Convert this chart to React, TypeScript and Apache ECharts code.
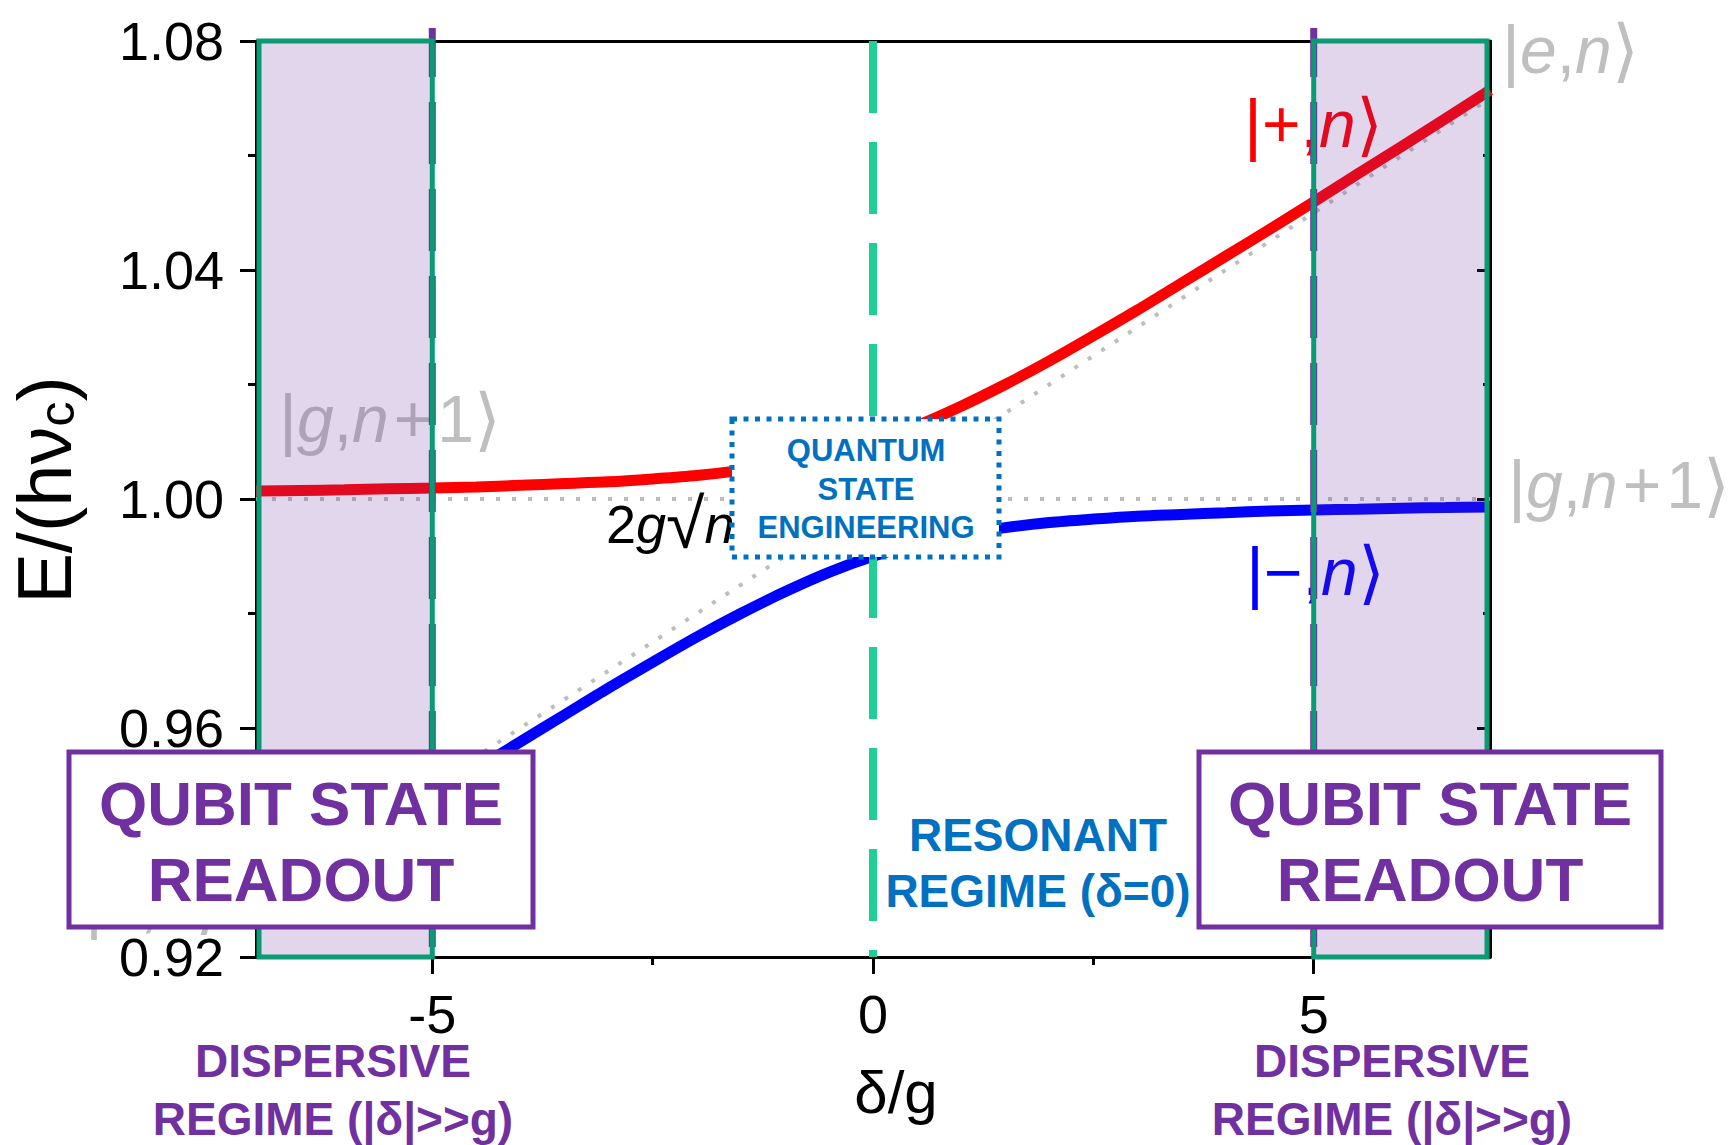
import React, { useEffect, useRef } from "react";
import * as echarts from "echarts";

// Detuning axis (δ/g) and the dressed-state energies E/(hν_c)
const deltaOverG = [
  -7, -6.5, -6, -5.5, -5, -4.5, -4, -3.5, -3, -2.5, -2, -1.5, -1, -0.5, 0,
  0.5, 1, 1.5, 2, 2.5, 3, 3.5, 4, 4.5, 5, 5.5, 6, 6.5, 7,
];
const upperBranch = [
  1.0014, 1.0015, 1.0016, 1.0018, 1.0019, 1.0021, 1.0024, 1.0027, 1.003,
  1.0035, 1.0041, 1.005, 1.0062, 1.0078, 1.01, 1.0128, 1.0162, 1.02, 1.0241,
  1.0285, 1.033, 1.0377, 1.0424, 1.0471, 1.0519, 1.0568, 1.0616, 1.0665, 1.0714,
];
const lowerBranch = [
  0.9286, 0.9335, 0.9384, 0.9432, 0.9481, 0.9529, 0.9576, 0.9623, 0.967,
  0.9715, 0.9759, 0.98, 0.9838, 0.9872, 0.99, 0.9922, 0.9938, 0.995, 0.9959,
  0.9965, 0.997, 0.9973, 0.9976, 0.9979, 0.9981, 0.9982, 0.9984, 0.9985, 0.9986,
];

// Bare (uncoupled) states
const bareX = [-7, 7];
const bareGround = [1.0, 1.0]; // |g,n+1>
const bareExcited = [0.93, 1.07]; // |e,n>

// Regimes
const dispersiveBands = [
  [-7, -5],
  [5, 7],
];
const resonanceDelta = 0;

// Axes
const xMin = -7;
const xMax = 7;
const yMin = 0.92;
const yMax = 1.08;
const yStep = 0.04;
const xMajorTicks = [-5, 0, 5];
const xMinorTicks = [-2.5, 2.5];

const FONT = '"Liberation Sans", Arial, Helvetica, sans-serif';
const PURPLE = "#7030A0";
const BLUE_TXT = "#0070C0";
const GREEN_EDGE = "#0A9A74";
const GREEN_RES = "#1FCF97";
const GRAY = "#BFBFBF";
const AXIS = { color: "#000", width: 3 };

// Builds a ket label as rich text: [text, style] where style is
// r (upright), i (italic), b (bracket), p (spaced operator)
function ket(parts: [string, string][]) {
  return parts.map(([t, s]) => `{${s}|${t}}`).join("");
}
function ketRich(size: number, color: string) {
  return {
    r: { fontSize: size, fontFamily: FONT, fill: color },
    i: { fontSize: size, fontFamily: FONT, fontStyle: "italic", fill: color },
    b: { fontSize: size * 1.05, fontFamily: FONT, fill: color },
    p: { fontSize: size, fontFamily: FONT, fill: color, padding: [0, 5, 0, 5] },
  };
}
function ketLabel(x: number, y: number, parts: [string, string][], color: string, size = 66) {
  return {
    type: "text",
    x,
    y,
    z: 1,
    silent: true,
    style: {
      text: ket(parts),
      rich: ketRich(size, color),
      fill: color,
      fontSize: size,
      fontFamily: FONT,
      align: "left",
      verticalAlign: "middle",
    },
  };
}

const KET_E: [string, string][] = [["|", "b"], ["e", "i"], [",", "r"], ["n", "i"], ["⟩", "b"]];
const KET_G: [string, string][] = [
  ["|", "b"],
  ["g", "i"],
  [",", "r"],
  ["n", "i"],
  ["+", "p"],
  ["1", "r"],
  ["⟩", "b"],
];
const KET_PLUS: [string, string][] = [["|", "b"], ["+,", "r"], ["n", "i"], ["⟩", "b"]];
const KET_MINUS: [string, string][] = [["|", "b"], ["−,", "r"], ["n", "i"], ["⟩", "b"]];

export default function App() {
  const ref = useRef<HTMLDivElement>(null);

  useEffect(() => {
    if (!ref.current) return;
    const chart = echarts.init(ref.current, null, { renderer: "svg" });

    const toPairs = (ys: number[], xs: number[]) => xs.map((x, i) => [x, ys[i]]);

    const graphics: any[] = [
      // axis titles
      {
        type: "text",
        x: 44,
        y: 490,
        rotation: Math.PI / 2,
        z: 50,
        silent: true,
        style: {
          text: "{m|E/(hν}{s|c}{m|)}",
          rich: {
            m: { fontSize: 76, fontFamily: FONT, fill: "#000" },
            s: { fontSize: 50, fontFamily: FONT, fill: "#000", verticalAlign: "bottom", lineHeight: 42 },
          },
          align: "center",
          verticalAlign: "middle",
        },
      },
      {
        type: "text",
        x: 896,
        y: 1092,
        z: 50,
        silent: true,
        style: {
          text: "δ/g",
          fontSize: 60,
          fontFamily: FONT,
          fill: "#000",
          align: "center",
          verticalAlign: "middle",
        },
      },
      // regime captions under the axis
      ...[333, 1392].map((x) => ({
        type: "text",
        x,
        y: 1090,
        z: 50,
        silent: true,
        style: {
          text: "DISPERSIVE\nREGIME (|δ|>>g)",
          fontSize: 46,
          fontWeight: "bold",
          fontFamily: FONT,
          fill: PURPLE,
          align: "center",
          verticalAlign: "middle",
          lineHeight: 58,
        },
      })),
      {
        type: "text",
        x: 1038,
        y: 863,
        z: 90,
        silent: true,
        style: {
          text: "RESONANT\nREGIME (δ=0)",
          fontSize: 46,
          fontWeight: "bold",
          fontFamily: FONT,
          fill: BLUE_TXT,
          align: "center",
          verticalAlign: "middle",
          lineHeight: 56,
        },
      },
      // state labels
      ketLabel(1502, 50, KET_E, GRAY),
      ketLabel(1508, 485, KET_G, GRAY),
      ketLabel(279, 419, KET_G, GRAY),
      ketLabel(85, 902, KET_E, GRAY),
      ketLabel(1244, 124, KET_PLUS, "#FF0000"),
      ketLabel(1246, 572, KET_MINUS, "#0000FF"),
      // coupling gap
      {
        type: "text",
        x: 606,
        y: 524,
        z: 20,
        silent: true,
        style: {
          text: "{r|2}{i|g}{b|√}{i|n}{r|+1}",
          rich: {
            r: { fontSize: 54, fontFamily: FONT, fill: "#000" },
            i: { fontSize: 54, fontFamily: FONT, fontStyle: "italic", fill: "#000" },
            b: { fontSize: 70, fontFamily: FONT, fill: "#000" },
          },
          fill: "#000",
          fontSize: 54,
          fontFamily: FONT,
          align: "left",
          verticalAlign: "middle",
        },
      },
      // call-out boxes
      ...[
        { x: 69, w: 464 },
        { x: 1199, w: 462 },
      ].flatMap((b) => [
        {
          type: "rect",
          z: 100,
          silent: true,
          shape: { x: b.x, y: 752, width: b.w, height: 175 },
          style: { fill: "#fff", stroke: PURPLE, lineWidth: 5 },
        },
        {
          type: "text",
          x: b.x + b.w / 2,
          y: 841,
          z: 101,
          silent: true,
          style: {
            text: "QUBIT STATE\nREADOUT",
            fontSize: 62,
            fontWeight: "bold",
            fontFamily: FONT,
            fill: PURPLE,
            align: "center",
            verticalAlign: "middle",
            lineHeight: 76,
          },
        },
      ]),
      {
        type: "rect",
        z: 100,
        silent: true,
        shape: { x: 732, y: 419, width: 267, height: 138 },
        style: { fill: "#fff", stroke: BLUE_TXT, lineWidth: 5, lineDash: [5, 6.5] },
      },
      {
        type: "text",
        x: 866,
        y: 489,
        z: 101,
        silent: true,
        style: {
          text: "QUANTUM\nSTATE\nENGINEERING",
          fontSize: 31,
          fontWeight: "bold",
          fontFamily: FONT,
          fill: BLUE_TXT,
          align: "center",
          verticalAlign: "middle",
          lineHeight: 38.5,
        },
      },
    ];

    const option: any = {
      animation: false,
      backgroundColor: "#fff",
      grid: { left: 256, right: 239, top: 41, bottom: 188 },
      xAxis: [
        {
          type: "value",
          position: "bottom",
          min: xMin,
          max: xMax,
          axisLine: { show: true, onZero: false, lineStyle: AXIS },
          axisTick: { show: true, customValues: xMajorTicks, length: 17, lineStyle: AXIS },
          axisLabel: {
            show: true,
            customValues: xMajorTicks,
            fontSize: 54,
            fontFamily: FONT,
            color: "#000",
            margin: 30,
          },
          splitLine: { show: false },
        },
        {
          type: "value",
          position: "bottom",
          min: xMin,
          max: xMax,
          axisLine: { show: false, onZero: false },
          axisTick: { show: true, customValues: xMinorTicks, length: 8, lineStyle: AXIS },
          axisLabel: { show: false },
          splitLine: { show: false },
        },
        {
          type: "value",
          position: "top",
          min: xMin,
          max: xMax,
          axisLine: { show: true, onZero: false, lineStyle: AXIS },
          axisTick: { show: false },
          axisLabel: { show: false },
          splitLine: { show: false },
        },
      ],
      yAxis: [
        {
          type: "value",
          position: "left",
          min: yMin,
          max: yMax,
          interval: yStep,
          axisLine: { show: true, onZero: false, lineStyle: AXIS },
          axisTick: { show: true, length: 16, lineStyle: AXIS },
          minorTick: { show: true, splitNumber: 2, length: 8, lineStyle: AXIS },
          axisLabel: {
            fontSize: 54,
            fontFamily: FONT,
            color: "#000",
            margin: 32,
            formatter: (v: number) => v.toFixed(2),
          },
          splitLine: { show: false },
        },
        {
          type: "value",
          position: "right",
          min: yMin,
          max: yMax,
          interval: yStep,
          axisLine: { show: true, onZero: false, lineStyle: AXIS },
          axisTick: { show: true, inside: true, length: 13, lineStyle: AXIS },
          minorTick: { show: true, splitNumber: 2, length: 7, lineStyle: AXIS },
          axisLabel: { show: false },
          splitLine: { show: false },
        },
      ],
      series: [
        {
          name: "|g,n+1>",
          type: "line",
          data: toPairs(bareGround, bareX),
          symbol: "none",
          silent: true,
          z: 2,
          lineStyle: { color: "#BDBDBD", width: 4, type: [4, 12] },
        },
        {
          name: "|e,n>",
          type: "line",
          data: toPairs(bareExcited, bareX),
          symbol: "none",
          silent: true,
          z: 2,
          lineStyle: { color: "#BDBDBD", width: 4, type: [4, 12] },
        },
        {
          name: "|+,n>",
          type: "line",
          data: toPairs(upperBranch, deltaOverG),
          symbol: "none",
          smooth: 0.3,
          silent: true,
          z: 3,
          lineStyle: { color: "#FF0000", width: 11 },
        },
        {
          name: "|-,n>",
          type: "line",
          data: toPairs(lowerBranch, deltaOverG),
          symbol: "none",
          smooth: 0.3,
          silent: true,
          z: 3,
          lineStyle: { color: "#0000FF", width: 11 },
        },
        {
          name: "resonance",
          type: "custom",
          silent: true,
          clip: false,
          z: 4,
          data: [[resonanceDelta, yMin, yMax]],
          renderItem: (_p: any, api: any) => {
            const top = api.coord([api.value(0), api.value(2)]);
            const bot = api.coord([api.value(0), api.value(1)]);
            return {
              type: "line",
              shape: { x1: top[0], y1: top[1], x2: bot[0], y2: bot[1] },
              style: { stroke: GREEN_RES, lineWidth: 8, lineDash: [72, 29] },
            };
          },
        },
        {
          name: "dispersive",
          type: "custom",
          silent: true,
          clip: false,
          z: 5,
          data: dispersiveBands.map(([a, b]) => [a, b]),
          renderItem: (_p: any, api: any) => {
            const x0 = api.value(0);
            const x1 = api.value(1);
            const inner = x0 < 0 ? x1 : x0;
            const tl = api.coord([x0, yMax]);
            const br = api.coord([x1, yMin]);
            const ix = api.coord([inner, yMax])[0];
            const leftInset = x0 <= xMin ? 3 : 0;
            const rightInset = x1 >= xMax ? 3 : 0;
            return {
              type: "group",
              children: [
                {
                  type: "line",
                  shape: { x1: ix, y1: tl[1] - 13, x2: ix, y2: br[1] },
                  style: { stroke: PURPLE, lineWidth: 7, lineDash: [62, 25], lineDashOffset: 13 },
                },
                {
                  type: "rect",
                  shape: {
                    x: tl[0] + leftInset,
                    y: tl[1],
                    width: br[0] - tl[0] - leftInset - rightInset,
                    height: br[1] - tl[1],
                  },
                  style: { fill: "rgba(112,48,160,0.2)", stroke: GREEN_EDGE, lineWidth: 5 },
                },
              ],
            };
          },
        },
      ],
      graphic: { elements: graphics },
    };

    chart.setOption(option);
    return () => chart.dispose();
  }, []);

  return (
    <div
      ref={ref}
      style={{ position: "fixed", left: 0, top: 0, width: 1729, height: 1145, background: "#fff" }}
    />
  );
}
